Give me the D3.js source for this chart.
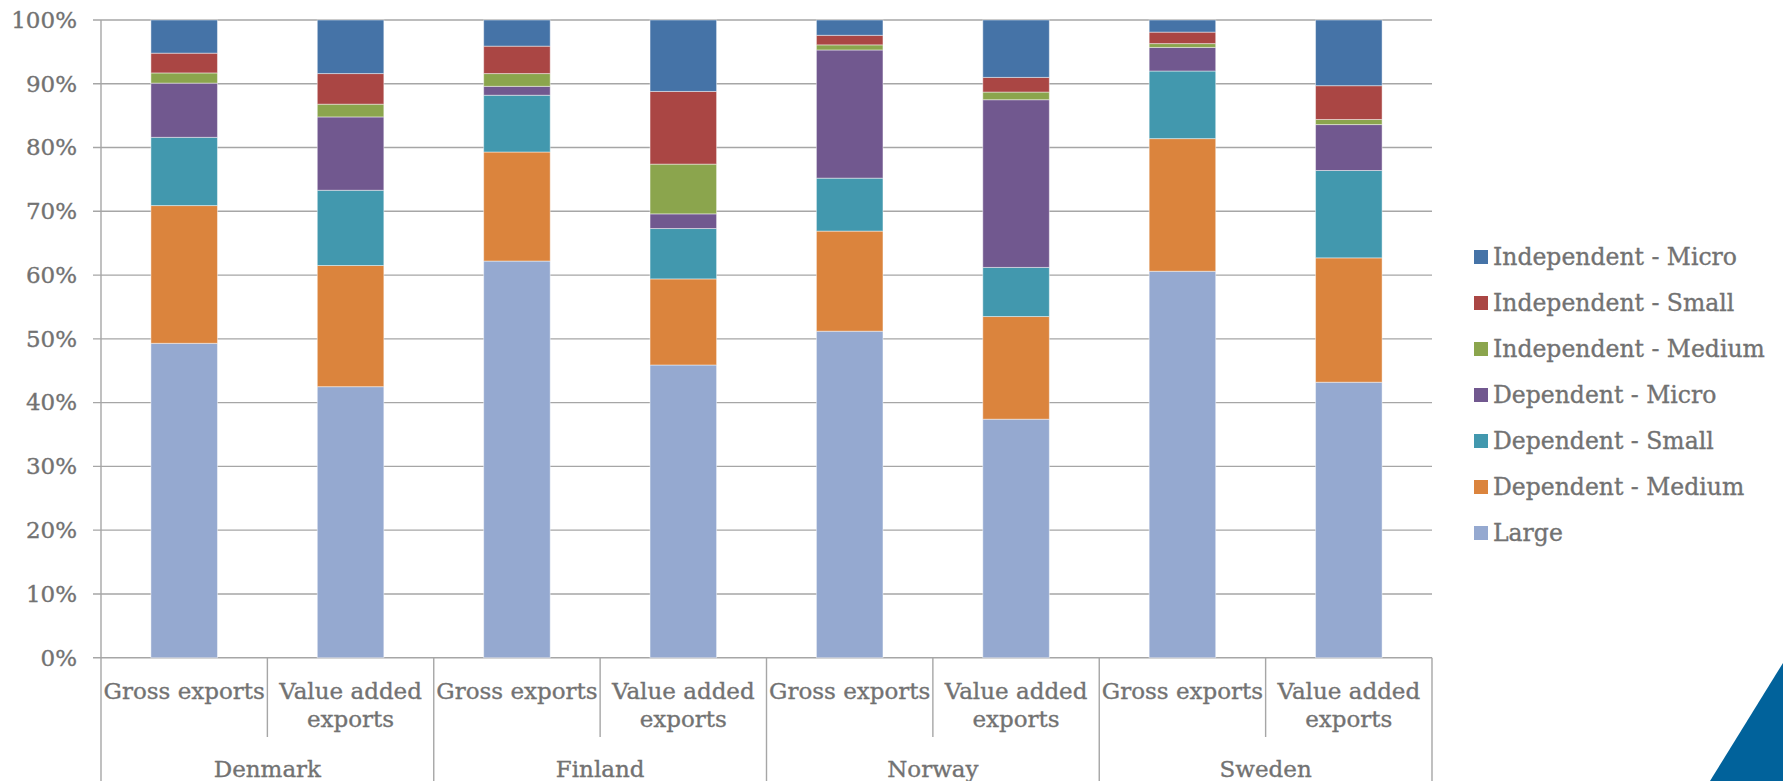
<!DOCTYPE html>
<html>
<head>
<meta charset="utf-8">
<script src="https://cdn.jsdelivr.net/npm/d3@7"></script>
<style>
  html, body { margin: 0; padding: 0; background: #fff; }
  svg { display: block; }
  text { font-family: "DejaVu Serif", serif; fill: #727272; stroke: #727272; stroke-width: 0.35px; }
</style>
</head>
<body>
<svg id="chart" width="1783" height="781"></svg>
<script>
// Countries and the two export measures shown for each
const countries = ["Denmark", "Finland", "Norway", "Sweden"];
const measures = ["Gross exports", "Value added exports"];

// Series, bottom of the stack first (shares in %)
const seriesNames = [
  "Large",
  "Dependent - Medium",
  "Dependent - Small",
  "Dependent - Micro",
  "Independent - Medium",
  "Independent - Small",
  "Independent - Micro"
];
// Order: DK gross, DK VA, FI gross, FI VA, NO gross, NO VA, SE gross, SE VA
const large        = [49.3, 42.5, 62.2, 45.9, 51.2, 37.4, 60.6, 43.2];
const depMedium    = [21.6, 19.0, 17.1, 13.5, 15.7, 16.1, 20.8, 19.5];
const depSmall     = [10.7, 11.8,  8.9,  7.9,  8.3,  7.7, 10.6, 13.7];
const depMicro     = [ 8.5, 11.5,  1.4,  2.3, 20.1, 26.3,  3.7,  7.2];
const indMedium    = [ 1.6,  2.0,  2.0,  7.8,  0.8,  1.2,  0.6,  0.8];
const indSmall     = [ 3.1,  4.8,  4.3, 11.4,  1.5,  2.3,  1.8,  5.3];
const indMicro     = [ 5.2,  8.4,  4.1, 11.2,  2.4,  9.0,  1.9, 10.3];

const yTicks = [0, 10, 20, 30, 40, 50, 60, 70, 80, 90, 100];

const colors = {
  "Large": "#95a9d0",
  "Dependent - Medium": "#db843d",
  "Dependent - Small": "#4298ae",
  "Dependent - Micro": "#71588f",
  "Independent - Medium": "#8ba54d",
  "Independent - Small": "#aa4644",
  "Independent - Micro": "#4573a7"
};

const seriesValues = [large, depMedium, depSmall, depMicro, indMedium, indSmall, indMicro];

// One row per bar
const rows = [];
countries.forEach((c, ci) => {
  measures.forEach((m, mi) => {
    const idx = ci * measures.length + mi;
    const r = { key: idx, country: c, measure: m };
    seriesNames.forEach((s, si) => { r[s] = seriesValues[si][idx]; });
    rows.push(r);
  });
});

const svg = d3.select("#chart");
const plotLeft = 101, plotRight = 1432, plotTop = 20, plotBottom = 657.7;

const x = d3.scaleBand()
  .domain(rows.map(d => d.key))
  .range([plotLeft, plotRight])
  .paddingInner(0.6)
  .paddingOuter(0.3);

const y = d3.scaleLinear().domain([0, 100]).range([plotBottom, plotTop]);

const gridColor = "#a6a6a6";

// Horizontal gridlines with left tick marks
svg.append("g")
  .selectAll("line")
  .data(yTicks)
  .join("line")
  .attr("x1", plotLeft - 8)
  .attr("x2", plotRight)
  .attr("y1", d => y(d))
  .attr("y2", d => y(d))
  .attr("stroke", gridColor)
  .attr("stroke-width", 1.4);

// Y axis labels
const yAxis = d3.axisLeft(y).tickValues(yTicks).tickFormat(d => d + "%").tickSize(0).tickPadding(24);
const yg = svg.append("g").attr("transform", `translate(${plotLeft},0)`).call(yAxis);
yg.select(".domain").remove();
yg.selectAll("text")
  .style("font-family", "DejaVu Serif, serif")
  .style("font-size", "23px")
  .attr("fill", "#727272");

// Stacked bars
const stack = d3.stack().keys(seriesNames);
const layers = stack(rows);

svg.append("g")
  .selectAll("g")
  .data(layers)
  .join("g")
  .attr("fill", d => colors[d.key])
  .selectAll("rect")
  .data(d => d)
  .join("rect")
  .attr("x", d => x(d.data.key))
  .attr("width", x.bandwidth())
  .attr("y", d => y(d[1]))
  .attr("height", d => y(d[0]) - y(d[1]))
  .attr("stroke", "rgba(255,255,255,0.45)")
  .attr("stroke-width", 1);

// Vertical axis line and category dividers
const step = x.step();
const axisG = svg.append("g");
axisG.append("line")
  .attr("x1", plotLeft).attr("x2", plotLeft)
  .attr("y1", plotTop).attr("y2", plotBottom)
  .attr("stroke", gridColor).attr("stroke-width", 1.4);
d3.range(0, rows.length + 1).forEach(k => {
  const xx = plotLeft + k * step;
  axisG.append("line")
    .attr("x1", xx).attr("x2", xx)
    .attr("y1", plotBottom)
    .attr("y2", k % 2 === 0 ? 781 : 737)
    .attr("stroke", gridColor).attr("stroke-width", 1.4);
});

// Measure labels (wrapped into lines)
const wrap = { "Gross exports": ["Gross exports"], "Value added exports": ["Value added", "exports"] };
const lab = svg.append("g");
rows.forEach(r => {
  const cx = x(r.key) + x.bandwidth() / 2;
  wrap[r.measure].forEach((line, li) => {
    lab.append("text")
      .attr("x", cx)
      .attr("y", 699 + li * 28)
      .attr("text-anchor", "middle")
      .style("font-size", "23px")
      .text(line);
  });
});

// Country labels
countries.forEach((c, ci) => {
  const cx = plotLeft + (ci * 2 + 1) * step;
  lab.append("text")
    .attr("x", cx)
    .attr("y", 777)
    .attr("text-anchor", "middle")
    .style("font-size", "23px")
    .text(c);
});

// Legend, top entry is the last series in the stack
const legendItems = seriesNames.slice().reverse();
const lg = svg.append("g").attr("transform", "translate(1474,250)");
legendItems.forEach((s, i) => {
  const g = lg.append("g").attr("transform", `translate(0,${i * 46})`);
  g.append("rect").attr("width", 14).attr("height", 14).attr("fill", colors[s]);
  g.append("text")
    .attr("x", 19)
    .attr("y", 15)
    .style("font-size", "23.5px")
    .text(s);
});

// Corner decoration
svg.append("polygon")
  .attr("points", "1783,663 1783,781 1710,781")
  .attr("fill", "#01629b");
</script>
</body>
</html>
